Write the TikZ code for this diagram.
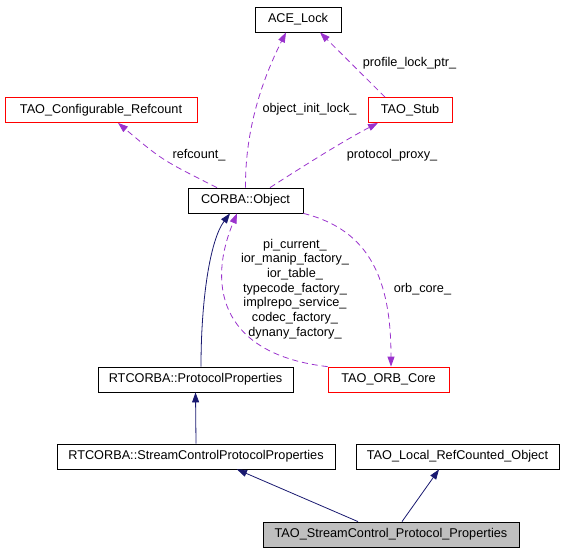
\documentclass[tikz,border=0pt]{standalone}
\usepackage{fontspec}
\setmainfont{Liberation Sans}
\usepackage{tikz}
\usetikzlibrary{arrows.meta,calc,positioning}
\definecolor{my_navy}{RGB}{25, 25, 112}
\definecolor{my_purple}{RGB}{154, 50, 205}
\definecolor{my_red}{RGB}{255, 0, 0}
\definecolor{my_gray}{RGB}{191, 191, 191}
\newcommand{\dotfont}{\fontsize{12.7}{14.7}\selectfont}
\tikzset{
  classbox/.style = {rectangle, draw, line width=0.8pt, minimum height=25pt, inner sep=0pt,
  text centered, font=\dotfont},
  cls_n/.style = {classbox},
  cls_r/.style = {classbox, draw=my_red},
  cls_g/.style = {classbox, fill=my_gray}
}

\begin{document}
\begin{tikzpicture}[x=1pt, y=-1pt, line width=0.8pt,
        >={Triangle[length=10pt,width=7pt]},
        inherit/.style={->, draw=my_navy},
        usage/.style={->, draw=my_purple, dash pattern=on 6pt off 4pt},
        edgelabel/.style={font=\dotfont, inner sep=0pt, align=center}]
    \useasboundingbox (0,0) rectangle (585,552);
    \node [cls_n, minimum width=86pt] (acelock) at (298,19.5) {ACE\_Lock};
    \node [cls_r, minimum width=84pt] (taostub) at (410,110) {TAO\_Stub};
    \node [cls_r, minimum width=192pt] (refcount) at (101,110) {TAO\_Configurable\_Refcount};
    \node [cls_n, minimum width=115pt] (corba) at (245.5,200.5) {CORBA::Object};
    \node [cls_r, minimum width=121pt] (orbcore) at (388.5,379.5) {TAO\_ORB\_Core};
    \node [cls_n, minimum width=195pt] (protoprops) at (195.5,379.5) {RTCORBA::ProtocolProperties};
    \node [cls_n, minimum width=278pt] (scprops) at (196,456.5) {RTCORBA::StreamControlProtocolProperties};
    \node [cls_n, minimum width=203pt] (localrc) at (457.5,456.5) {TAO\_Local\_RefCounted\_Object};
    \node [cls_g, minimum width=256pt] (streamprops) at (391,534.5) {TAO\_StreamControl\_Protocol\_Properties};
    % usage edges
    \draw [usage] ([xshift=-28.5pt]corba.north) .. controls (162,160) .. ([xshift=17pt]refcount.south);
    \draw [usage] (corba.north) .. controls (245,130) and (262,80) .. ([xshift=-12pt]acelock.south);
    \draw [usage] ([xshift=24.5pt]corba.north) .. controls (305,165) and (345,140) .. ([xshift=-32pt]taostub.south);
    \draw [usage] ([xshift=-25pt]taostub.north) -- ([xshift=22pt]acelock.south);
    \draw [usage] (corba.south east) .. controls (370,230) and (391,280) .. ([xshift=2.5pt]orbcore.north);
    \draw [usage] (orbcore.north west) .. controls (225,355) and (205,290) .. ([xshift=-8.5pt]corba.south);
    \node [edgelabel] (lbl_refcount) at (199,155) {refcount\_};
    \node [edgelabel] (lbl_initlock) at (309.5,109) {object\_init\_lock\_};
    \node [edgelabel] (lbl_proxy) at (392,155) {protocol\_proxy\_};
    \node [edgelabel] (lbl_lockptr) at (409.5,63) {profile\_lock\_ptr\_};
    \node [edgelabel] (lbl_orbcore) at (422.5,289) {orb\_core\_};
    \node [edgelabel] (lbl_factories) at (295,289) {pi\_current\_\\ior\_manip\_factory\_\\ior\_table\_\\
        typecode\_factory\_\\implrepo\_service\_\\codec\_factory\_\\dynany\_factory\_};
    % inheritance edges
    \draw [inherit] ([xshift=5.5pt]protoprops.north) .. controls (201,300) and (210,240) .. ([xshift=-15.5pt]corba.south);
    \draw [inherit] (scprops.north) -- (protoprops.south);
    \draw [inherit] ([xshift=-33pt]streamprops.north) -- ([xshift=41pt]scprops.south);
    \draw [inherit] ([xshift=11pt]streamprops.north) -- ([xshift=-18.5pt]localrc.south);
\end{tikzpicture}
\end{document}
